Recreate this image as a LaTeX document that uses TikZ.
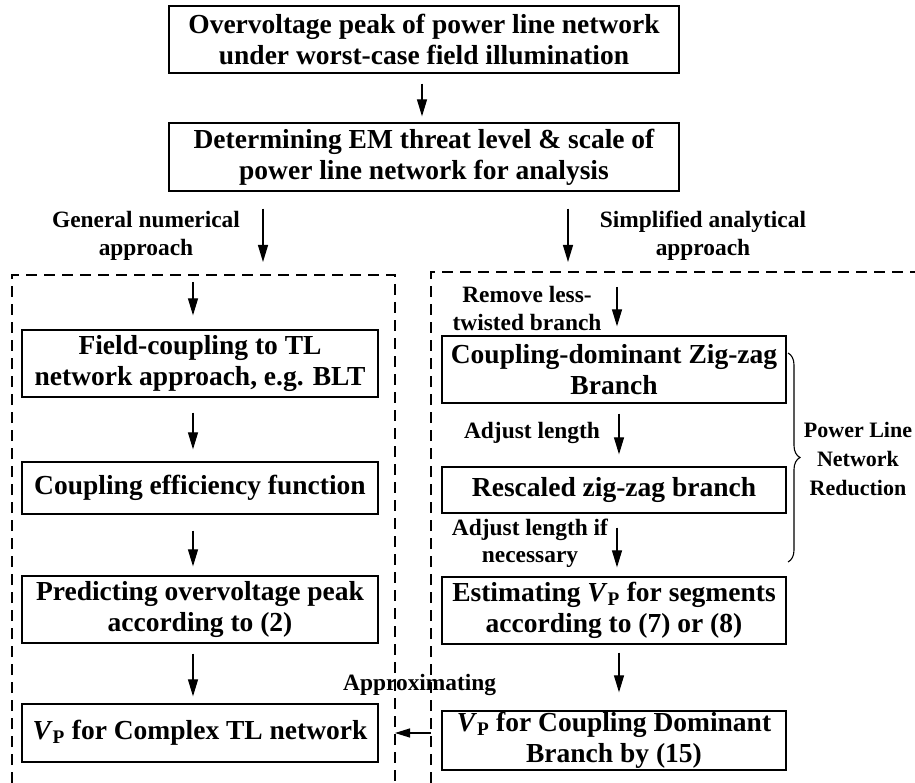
\documentclass[tikz,border=0pt]{standalone}
\usepackage{fontspec}
\setmainfont{Liberation Serif}
\usetikzlibrary{arrows.meta,decorations.pathreplacing}

\newcommand\boxfont{\fontsize{27.5}{31}\selectfont\bfseries}
\newcommand\lblfont{\fontsize{23.4}{27.5}\selectfont\bfseries}
\newcommand\redfont{\fontsize{22}{29}\selectfont\bfseries}
\newcommand\vp{\textit{V}\textsubscript{P}}

\tikzset{
  stepbox/.style={draw, line width=1.3pt, align=center, font=\boxfont,
    inner sep=0pt, minimum width=#1},
  stepbox/.default=356pt,
  flow/.style={line width=1.2pt, -{Triangle[length=17pt,width=10pt]}},
  region/.style={line width=1.1pt, dash pattern=on 11pt off 7pt},
  lbl/.style={align=center, font=\lblfont, inner sep=0pt},
}

\begin{document}
\begin{tikzpicture}[x=1pt,y=-1pt]
\useasboundingbox (0,0) rectangle (915,783);

% dashed regions of the two approaches
\coordinate (LTL) at (12,275);
\coordinate (LTR) at (395,275);
\coordinate (RTL) at (431,272);
\draw[region] (12,783) -- (LTL) -- (LTR) -- (395,783);
\draw[region] (431,783) -- (RTL) -- (915,272);

% top boxes
\node[stepbox=510pt, minimum height=67pt] (top) at (424,39.5)
  {Overvoltage peak of power line network\\under worst-case field illumination};
\node[stepbox=510pt, minimum height=68pt] (det) at (424,157)
  {Determining EM threat level \& scale of\\power line network for analysis};

% left column: numerical approach
\node[stepbox, minimum height=67pt] (field) at (200,363.5)
  {Field-coupling to TL\\network approach, e.g. BLT};
\node[stepbox, minimum height=52pt] (eff) at (200,488)
  {Coupling efficiency function};
\node[stepbox, minimum height=67pt] (pred) at (200,609.5)
  {Predicting overvoltage peak\\according to (2)};
\node[stepbox, minimum height=58pt] (vpc) at (200,733)
  {\vp{} for Complex TL network};

% right column: analytical approach
\node[stepbox=344pt, minimum height=67pt] (cdz) at (614,369.5)
  {Coupling-dominant Zig-zag\\Branch};
\node[stepbox=344pt, minimum height=46pt] (resc) at (614,490)
  {Rescaled zig-zag branch};
\node[stepbox=344pt, minimum height=67pt] (est) at (614,610.5)
  {Estimating \vp{} for segments\\according to (7) or (8)};
\node[stepbox=344pt, minimum height=59pt] (vpb) at (614,740.5)
  {\vp{} for Coupling Dominant\\Branch by (15)};

% labels
\node[lbl] (gen) at (146,236) {General numerical\\approach};
\node[lbl] (sim) at (703,236) {Simplified analytical\\approach};
\node[lbl] (rem) at (527,308.5) {Remove less-\\twisted branch};
\node[lbl] (adj) at (532,433) {Adjust length};
\node[lbl] (adjn) at (530,543.5) {Adjust length if\\necessary};
\node[lbl, anchor=west] (appr) at (343,685) {Approximating};
\node[lbl, font=\redfont] (red) at (858,459) {Power Line\\Network\\Reduction};

% arrow end points
\coordinate (gA) at (263,262);
\coordinate (sA) at (568,262);
\coordinate (inL) at (193,282);
\coordinate (inR) at (617,287);

% connectors
\draw[flow, shorten <=10pt, shorten >=6pt] (top.south -| 422,0) -- (det.north -| 422,0);
\draw[flow, shorten <=17pt] (det.south -| gA) -- (gA);
\draw[flow, shorten <=17pt] (det.south -| sA) -- (sA);
\draw[flow, shorten >=14pt] (inL) -- (inL |- field.north);
\draw[flow, shorten >=9pt] (inR) -- (inR |- cdz.north);

\draw[flow, shorten <=15pt, shorten >=12pt] (field.south -| inL) -- (eff.north -| inL);
\draw[flow, shorten <=16pt, shorten >=9pt] (eff.south -| inL) -- (pred.north -| inL);
\draw[flow, shorten <=10pt, shorten >=7pt] (pred.south -| inL) -- (vpc.north -| inL);

\draw[flow, shorten <=10pt, shorten >=12pt] (cdz.south -| 619,0) -- (resc.north -| 619,0);
\draw[flow, shorten <=14pt, shorten >=9pt] (resc.south -| inR) -- (est.north -| inR);
\draw[flow, shorten <=8pt, shorten >=18pt] (est.south -| 619,0) -- (vpb.north -| 619,0);

\draw[line width=1.2pt, -{Triangle[length=15pt,width=9pt]}]
  (RTL |- vpc.center) -- (LTR |- vpc.center);

% brace for the network reduction steps
\draw[line width=1.1pt, decorate, decoration={brace, amplitude=12pt}]
  (788,353) -- (788,562);
\end{tikzpicture}
\end{document}
